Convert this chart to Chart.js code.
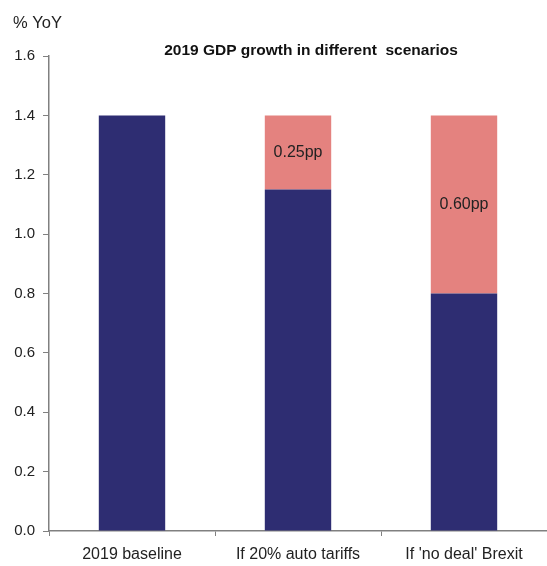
<!DOCTYPE html>
<html>
<head>
<meta charset="utf-8">
<script src="https://cdn.jsdelivr.net/npm/chart.js@4"></script>
<style>
  html, body { margin: 0; padding: 0; background: #fff; }
  #wrap { width: 547px; height: 566px; }
</style>
</head>
<body>
<div id="wrap"><canvas id="c" width="547" height="566"></canvas></div>
<script>
const categories = ["2019 baseline", "If 20% auto tariffs", "If 'no deal' Brexit"];
const growthValues = [1.4, 1.15, 0.8];
const impactValues = [0, 0.25, 0.6];
const impactLabels = ["", "0.25pp", "0.60pp"];
const yTicks = [0, 0.2, 0.4, 0.6, 0.8, 1.0, 1.2, 1.4, 1.6];
const chartTitle = "2019 GDP growth in different  scenarios";
const unitLabel = "% YoY";

const NAVY = "#2e2d72";
const PINK = "#e4827f";
const AXIS = "#808080";
const TEXT = "#222222";
const FONT = "'Liberation Sans', Arial, sans-serif";

const overlayText = {
  id: "overlayText",
  afterDatasetsDraw(chart) {
    const ctx = chart.ctx;
    ctx.save();
    const meta = chart.getDatasetMeta(1);
    ctx.font = "16px " + FONT;
    ctx.fillStyle = TEXT;
    ctx.textAlign = "center";
    ctx.textBaseline = "middle";
    meta.data.forEach((bar, i) => {
      if (!impactLabels[i]) return;
      const p = bar.getCenterPoint();
      ctx.fillText(impactLabels[i], p.x, p.y);
    });
    ctx.textAlign = "left";
    ctx.font = "16.5px " + FONT;
    ctx.fillText(unitLabel, 13, 23);
    ctx.textAlign = "center";
    ctx.font = "bold 15.5px " + FONT;
    ctx.fillStyle = "#111";
    ctx.fillText(chartTitle, 311, 51);
    ctx.restore();
  }
};

new Chart(document.getElementById("c"), {
  type: "bar",
  data: {
    labels: categories,
    datasets: [
      { data: growthValues, backgroundColor: NAVY, barPercentage: 1, categoryPercentage: 0.4 },
      { data: impactValues, backgroundColor: PINK, barPercentage: 1, categoryPercentage: 0.4 }
    ]
  },
  options: {
    responsive: false,
    animation: false,
    devicePixelRatio: 1,
    layout: { padding: { top: 56, right: 0, bottom: 0, left: 0 } },
    plugins: { legend: { display: false }, title: { display: false }, tooltip: { enabled: false } },
    scales: {
      x: {
        stacked: true,
        afterFit(s) { s.height = 35; },
        grid: { offset: true, drawOnChartArea: false, drawTicks: true, tickLength: 5, color: AXIS },
        border: { display: true, color: AXIS, width: 1.5 },
        ticks: { color: TEXT, font: { family: FONT, size: 16 }, padding: 9, maxRotation: 0, autoSkip: false }
      },
      y: {
        stacked: true,
        min: 0,
        max: 1.6,
        afterFit(s) { s.width = 49; },
        afterBuildTicks(s) { s.ticks = yTicks.map(v => ({ value: v })); },
        grid: { drawOnChartArea: false, drawTicks: true, tickLength: 6, color: AXIS },
        border: { display: true, color: AXIS, width: 1.5 },
        ticks: { color: TEXT, font: { family: FONT, size: 15 }, padding: 8, callback: v => Number(v).toFixed(1) }
      }
    }
  },
  plugins: [overlayText]
});
</script>
</body>
</html>
